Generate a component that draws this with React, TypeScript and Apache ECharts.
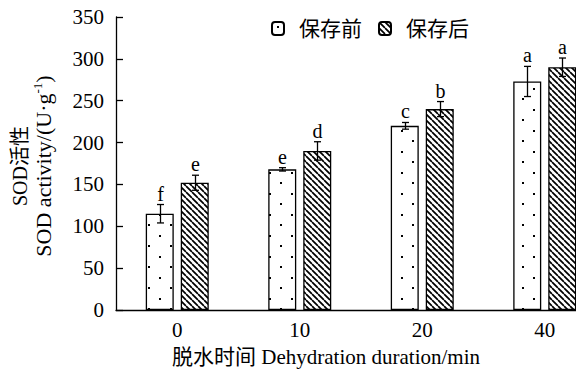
import React, { useEffect, useRef } from 'react';
import * as echarts from 'echarts';

const categories = ['0', '10', '20', '40'];
const beforeValues = [115, 168, 220, 273];
const beforeErrors = [11, 2, 4, 18];
const afterValues = [152, 190, 240, 290];
const afterErrors = [9, 11, 9, 11];
const beforeLetters = ['f', 'e', 'c', 'a'];
const afterLetters = ['e', 'd', 'b', 'a'];
const seriesNames = ['保存前', '保存后'];
const yMin = 0;
const yMax = 350;
const yInterval = 50;

const FONT = '"Liberation Serif", "Noto Sans CJK SC", serif';
const BAR_W = 28;
const BAR_GAP = 7;

function makeDots() {
  const c = document.createElement('canvas');
  c.width = 22;
  c.height = 21;
  const ctx = c.getContext('2d')!;
  ctx.fillStyle = '#fff';
  ctx.fillRect(0, 0, 22, 21);
  ctx.fillStyle = '#000';
  ctx.fillRect(5, 4, 2, 2);
  ctx.fillRect(16, 14, 2, 2);
  return c;
}

function makeHatch() {
  const s = 6;
  const c = document.createElement('canvas');
  c.width = s;
  c.height = s;
  const ctx = c.getContext('2d')!;
  ctx.fillStyle = '#fff';
  ctx.fillRect(0, 0, s, s);
  ctx.strokeStyle = '#000';
  ctx.lineWidth = 1.7;
  ctx.beginPath();
  for (const k of [-s, 0, s]) {
    ctx.moveTo(k, 0);
    ctx.lineTo(k + s, s);
  }
  ctx.stroke();
  return c;
}

function errSeries(vals: number[], errs: number[], letters: string[], offset: number) {
  return {
    type: 'custom',
    z: 10,
    silent: true,
    data: vals.map((v, i) => [i, v, errs[i]]),
    renderItem: (params: any, api: any) => {
      const i = api.value(0);
      const v = api.value(1);
      const e = api.value(2);
      const top = api.coord([i, v + e]);
      const bot = api.coord([i, v - e]);
      const x = Math.round(top[0] + offset) + 0.5;
      const cap = 3.5;
      const st = { stroke: '#000', lineWidth: 1.3 };
      return {
        type: 'group',
        children: [
          { type: 'line', shape: { x1: x, y1: top[1], x2: x, y2: bot[1] }, style: st },
          { type: 'line', shape: { x1: x - cap, y1: top[1], x2: x + cap, y2: top[1] }, style: st },
          { type: 'line', shape: { x1: x - cap, y1: bot[1], x2: x + cap, y2: bot[1] }, style: st },
          {
            type: 'text',
            x: x,
            y: top[1] - 1,
            style: {
              text: letters[i],
              align: 'center',
              verticalAlign: 'bottom',
              fontFamily: FONT,
              fontSize: 20,
              fill: '#000',
            },
          },
        ],
      };
    },
  };
}

export default function App() {
  const ref = useRef<HTMLDivElement>(null);
  useEffect(() => {
    if (!ref.current) return;
    const chart = echarts.init(ref.current, null, { renderer: 'svg' });
    const dots = makeDots();
    const hatch = makeHatch();
    const off = (BAR_W + BAR_GAP) / 2;
    chart.setOption({
      animation: false,
      backgroundColor: '#fff',
      grid: {
        left: 116,
        top: 17,
        height: 293,
        width: 490,
        containLabel: false,
        outerBoundsMode: 'none',
      },
      legend: {
        data: seriesNames,
        left: 271,
        top: 18,
        padding: 0,
        itemWidth: 12,
        itemHeight: 13,
        itemGap: 16,
        textStyle: { fontFamily: FONT, fontSize: 21, color: '#000', padding: [0, 0, 0, 10] },
      },
      xAxis: {
        type: 'category',
        data: categories,
        axisLine: { lineStyle: { color: '#000', width: 1.3 } },
        axisTick: { show: false },
        axisLabel: { color: '#000', fontFamily: FONT, fontSize: 21, margin: 9 },
      },
      yAxis: {
        type: 'value',
        min: yMin,
        max: yMax,
        interval: yInterval,
        splitLine: { show: false },
        axisLine: { show: true, lineStyle: { color: '#000', width: 1.3 } },
        axisTick: { show: true, inside: true, length: 7, lineStyle: { color: '#000', width: 1.3 } },
        axisLabel: { color: '#000', fontFamily: FONT, fontSize: 21, margin: 12 },
      },
      graphic: [
        {
          type: 'text',
          x: 20,
          y: 166,
          rotation: Math.PI / 2,
          style: {
            text: 'SOD活性',
            align: 'center',
            verticalAlign: 'middle',
            fontFamily: FONT,
            fontSize: 20,
            fill: '#000',
          },
        },
        {
          type: 'text',
          x: 43,
          y: 166,
          rotation: Math.PI / 2,
          style: {
            text: '{a|SOD activity/(U·g}{s|-1}{a|)}',
            align: 'center',
            verticalAlign: 'middle',
            rich: {
              a: { fontFamily: FONT, fontSize: 22, fill: '#000', lineHeight: 24 },
              s: { fontFamily: FONT, fontSize: 13, fill: '#000', verticalAlign: 'top', lineHeight: 24 },
            },
          },
        },
        {
          type: 'text',
          x: 326,
          y: 357,
          style: {
            text: '脱水时间 Dehydration duration/min',
            align: 'center',
            verticalAlign: 'middle',
            fontFamily: FONT,
            fontSize: 21,
            fill: '#000',
          },
        },
      ],
      series: [
        {
          name: seriesNames[0],
          type: 'bar',
          data: beforeValues,
          barWidth: BAR_W,
          barGap: `${(BAR_GAP / BAR_W) * 100}%`,
          itemStyle: {
            color: { image: dots, repeat: 'repeat' },
            borderColor: '#000',
            borderWidth: 1.3,
          },
        },
        {
          name: seriesNames[1],
          type: 'bar',
          data: afterValues,
          barWidth: BAR_W,
          barGap: `${(BAR_GAP / BAR_W) * 100}%`,
          itemStyle: {
            color: { image: hatch, repeat: 'repeat' },
            borderColor: '#000',
            borderWidth: 1.3,
          },
        },
        errSeries(beforeValues, beforeErrors, beforeLetters, -off),
        errSeries(afterValues, afterErrors, afterLetters, off),
      ],
    });
    return () => chart.dispose();
  }, []);
  return (
    <div
      ref={ref}
      style={{ position: 'fixed', left: 0, top: 0, width: 576, height: 374 }}
    />
  );
}
